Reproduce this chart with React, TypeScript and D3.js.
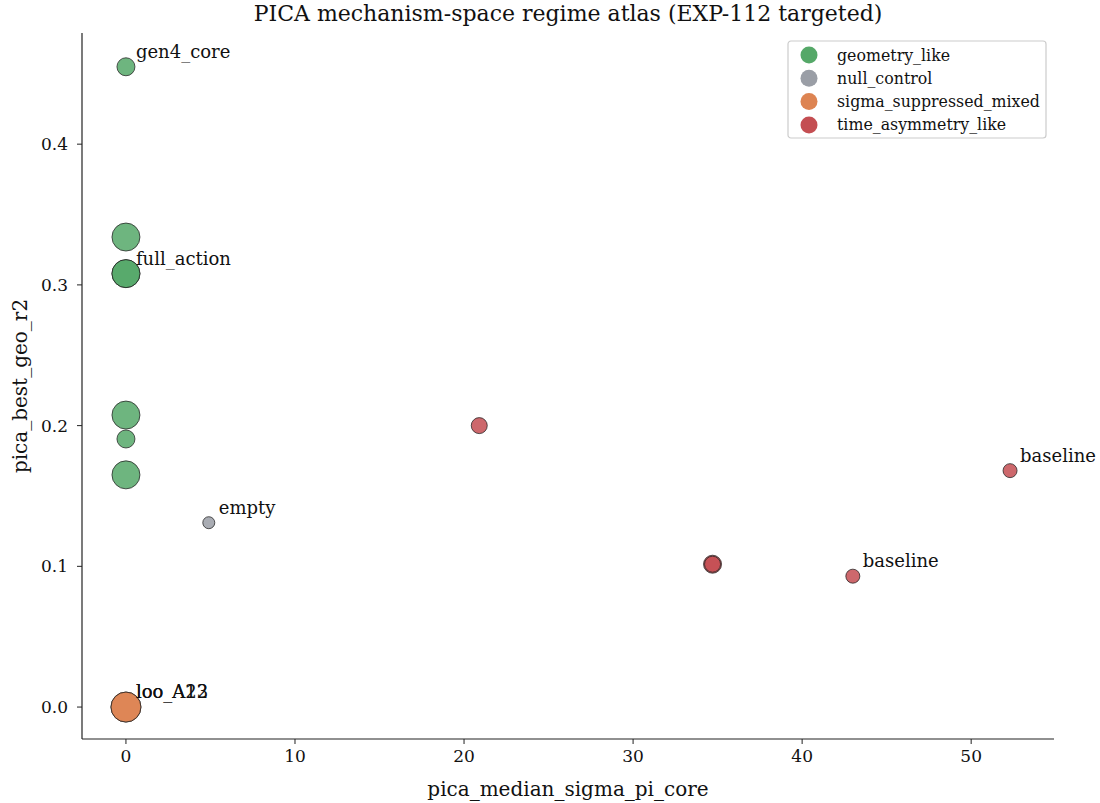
import * as d3 from "d3";

// regimes (legend order) and their colours
const REGIMES = ["geometry_like", "null_control", "sigma_suppressed_mixed", "time_asymmetry_like"];
const CORES: Record<string, string> = {
  geometry_like: "#55a868",
  null_control: "#9a9ea6",
  sigma_suppressed_mixed: "#dd8452",
  time_asymmetry_like: "#c44e52",
};

// one entry per run
const sigmaPi = [0, 0, 0, 0, 0, 0, 0, 4.9, 20.9, 34.7, 34.7, 43.0, 52.3, 0, 0];
const geoR2 = [0.455, 0.334, 0.308, 0.308, 0.2075, 0.1905, 0.165, 0.131, 0.2, 0.1015, 0.1015, 0.093, 0.168, 0, 0];
const regime = [
  "geometry_like", "geometry_like", "geometry_like", "geometry_like", "geometry_like", "geometry_like", "geometry_like",
  "null_control",
  "time_asymmetry_like", "time_asymmetry_like", "time_asymmetry_like", "time_asymmetry_like", "time_asymmetry_like",
  "sigma_suppressed_mixed", "sigma_suppressed_mixed",
];
const peso = [81, 196, 196, 196, 196, 81, 196, 36, 64, 81, 64, 49, 49, 225, 225];
const rotulo = ["gen4_core", "", "full_action", "", "", "", "", "empty", "", "", "", "baseline", "baseline", "loo_A12", "loo_A23"];

const xTicks = [0, 10, 20, 30, 40, 50];
const yTicks = [0.0, 0.1, 0.2, 0.3, 0.4];

const W = 1100;
const H = 803;
const margin = { top: 33, right: 46, bottom: 64, left: 82 };
const FONT = "'DejaVu Serif', serif";

export default function App() {
  const innerW = W - margin.left - margin.right;
  const innerH = H - margin.top - margin.bottom;

  const x = d3.scaleLinear().domain([-2.6, 54.9]).range([0, innerW]);
  const y = d3.scaleLinear().domain([-0.0227, 0.479]).range([innerH, 0]);
  const r = d3.scaleSqrt().domain([0, 225]).range([0, 15]);

  const pontos = sigmaPi.map((s, i) => ({
    x: s,
    y: geoR2[i],
    regime: regime[i],
    peso: peso[i],
    rotulo: rotulo[i],
  }));

  return (
    <div style={{ position: "fixed", left: 0, top: 0 }}>
      <svg width={W} height={H} style={{ background: "white", fontFamily: FONT }}>
        <text x={margin.left + innerW / 2} y={21} textAnchor="middle" fontSize={22} fill="#111">
          PICA mechanism-space regime atlas (EXP-112 targeted)
        </text>
        <g transform={`translate(${margin.left},${margin.top})`}>
          {/* pontos */}
          {pontos.map((p, i) => (
            <circle
              key={i}
              cx={x(p.x)}
              cy={y(p.y)}
              r={r(p.peso)}
              fill={CORES[p.regime]}
              fillOpacity={0.85}
              stroke="#222"
              strokeOpacity={0.85}
              strokeWidth={0.9}
            />
          ))}
          {/* rótulos */}
          {pontos.filter((p) => p.rotulo).map((p, i) => (
            <text key={i} x={x(p.x) + 10} y={y(p.y) - 9} fontSize={18} fill="#111">
              {p.rotulo}
            </text>
          ))}

          {/* eixo X */}
          <line x1={0} x2={innerW} y1={innerH} y2={innerH} stroke="#222" strokeWidth={1.2} />
          {xTicks.map((t) => (
            <g key={t} transform={`translate(${x(t)},${innerH})`}>
              <line y2={5} stroke="#222" />
              <text y={23} textAnchor="middle" fontSize={17} fill="#111">{t}</text>
            </g>
          ))}
          <text x={innerW / 2} y={innerH + 57} textAnchor="middle" fontSize={20} fill="#111">
            pica_median_sigma_pi_core
          </text>

          {/* eixo Y */}
          <line x1={0} x2={0} y1={0} y2={innerH} stroke="#222" strokeWidth={1.2} />
          {yTicks.map((t) => (
            <g key={t} transform={`translate(0,${y(t)})`}>
              <line x2={-5} stroke="#222" />
              <text x={-14} dy="0.35em" textAnchor="end" fontSize={17} fill="#111">{t.toFixed(1)}</text>
            </g>
          ))}
          <text
            transform={`translate(${-62},${innerH / 2}) rotate(-90)`}
            textAnchor="middle"
            dy="0.35em"
            fontSize={20}
            fill="#111"
          >
            pica_best_geo_r2
          </text>
        </g>

        {/* legenda */}
        <g transform="translate(788,41)">
          <rect width={258} height={97} rx={3} fill="white" fillOpacity={0.8} stroke="#ccc" strokeWidth={1.2} />
          {REGIMES.map((nome, i) => (
            <g key={nome} transform={`translate(0,${14 + i * 23.3})`}>
              <circle cx={21} cy={0} r={8.5} fill={CORES[nome]} />
              <text x={49} dy="0.35em" fontSize={15.8} fill="#111">{nome}</text>
            </g>
          ))}
        </g>
      </svg>
    </div>
  );
}
